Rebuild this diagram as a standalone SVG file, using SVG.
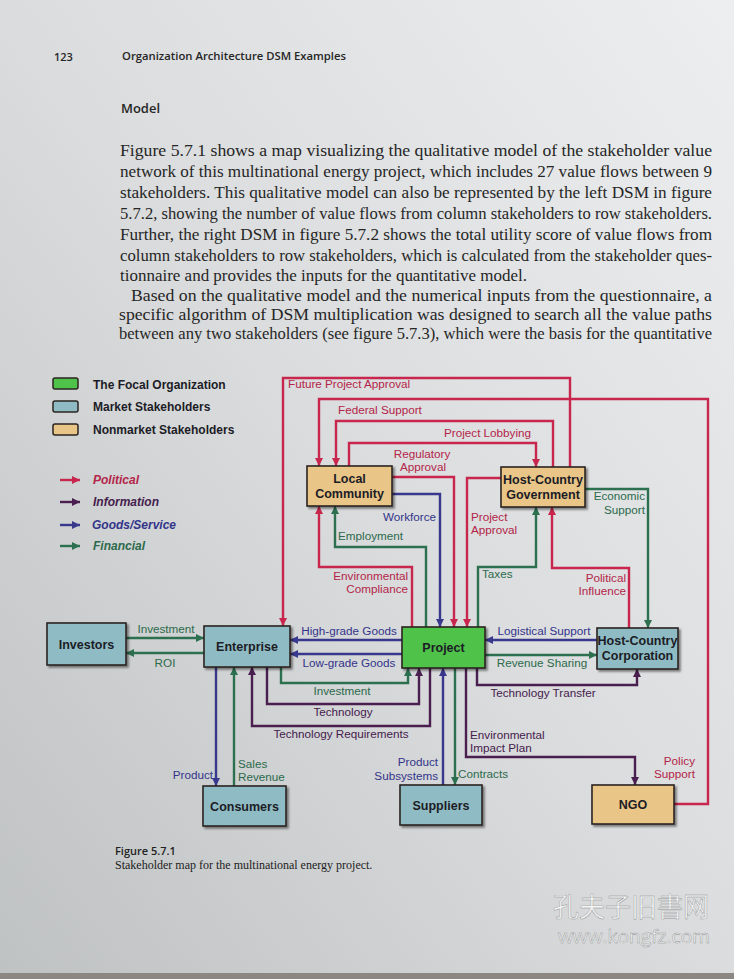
<svg xmlns="http://www.w3.org/2000/svg" width="734" height="979" viewBox="0 0 734 979">
<defs>
<linearGradient id="bg" x1="1" y1="0" x2="0" y2="1">
<stop offset="0" stop-color="#eceeef"/>
<stop offset="0.5" stop-color="#dadcdd"/>
<stop offset="1" stop-color="#bfc2c3"/>
</linearGradient>
<filter id="sh" x="-10%" y="-10%" width="130%" height="140%">
<feDropShadow dx="2" dy="2" stdDeviation="1.2" flood-color="#000" flood-opacity="0.45"/>
</filter>
<marker id="aR" viewBox="0 0 10 10" refX="10" refY="5" markerWidth="8" markerHeight="8" markerUnits="userSpaceOnUse" orient="auto"><path d="M0,0 L10,5 L0,10 z" fill="#c8264c"/></marker>
<marker id="aB" viewBox="0 0 10 10" refX="10" refY="5" markerWidth="8" markerHeight="8" markerUnits="userSpaceOnUse" orient="auto"><path d="M0,0 L10,5 L0,10 z" fill="#38398c"/></marker>
<marker id="aG" viewBox="0 0 10 10" refX="10" refY="5" markerWidth="8" markerHeight="8" markerUnits="userSpaceOnUse" orient="auto"><path d="M0,0 L10,5 L0,10 z" fill="#2c7050"/></marker>
<marker id="aP" viewBox="0 0 10 10" refX="10" refY="5" markerWidth="8" markerHeight="8" markerUnits="userSpaceOnUse" orient="auto"><path d="M0,0 L10,5 L0,10 z" fill="#4a1f50"/></marker>
</defs>
<style>
.body{font-family:"Liberation Serif","Times New Roman",serif;font-size:16px;fill:#262626}
.hdr{font-family:"Open Sans","Noto Sans",sans-serif;font-weight:600;fill:#262626}
.node rect{stroke:#2b2420;stroke-width:1.6;filter:url(#sh)}
.org rect{fill:#e9c587}
.mkt rect{fill:#8fbcc4}
.foc rect{fill:#4fc24a}
.nt{font-family:"Liberation Sans",Arial,sans-serif;font-weight:bold;font-size:12.5px;fill:#1c1c26;text-anchor:middle}
.c{fill:none;stroke-width:2.4;stroke-linejoin:miter}
.r{stroke:#c8264c;marker-end:url(#aR)}
.b{stroke:#38398c;marker-end:url(#aB)}
.g{stroke:#2c7050;marker-end:url(#aG)}
.p{stroke:#4a1f50;marker-end:url(#aP)}
.lb{font-family:"Liberation Sans",Arial,sans-serif;font-size:11.7px}
.lr{fill:#b4254a}.lbb{fill:#33348a}.lg{fill:#2c6a4c}.lp{fill:#45204d}
.m{text-anchor:middle}.e{text-anchor:end}
.leg{font-family:"Liberation Sans",Arial,sans-serif;font-weight:bold;font-size:12px;fill:#1c1c26}
.legi{font-family:"Liberation Sans",Arial,sans-serif;font-weight:bold;font-style:italic;font-size:12px}
</style>
<rect x="0" y="0" width="734" height="979" fill="url(#bg)"/>
<rect x="0" y="973" width="734" height="6" fill="#8c8782"/>

<text class="hdr" x="54" y="61" font-size="11">123</text>
<text class="hdr" x="122" y="60" font-size="11.5" textLength="224" lengthAdjust="spacingAndGlyphs">Organization Architecture DSM Examples</text>
<text class="hdr" x="121" y="113" font-size="13" textLength="39" lengthAdjust="spacingAndGlyphs">Model</text>

<g id="paragraph">
<text class="body" x="120" y="156" textLength="592" lengthAdjust="spacingAndGlyphs">Figure 5.7.1 shows a map visualizing the qualitative model of the stakeholder value</text>
<text class="body" x="120" y="177" textLength="592" lengthAdjust="spacingAndGlyphs">network of this multinational energy project, which includes 27 value flows between 9</text>
<text class="body" x="120" y="198" textLength="592" lengthAdjust="spacingAndGlyphs">stakeholders. This qualitative model can also be represented by the left DSM in figure</text>
<text class="body" x="120" y="219" textLength="592" lengthAdjust="spacingAndGlyphs">5.7.2, showing the number of value flows from column stakeholders to row stakeholders.</text>
<text class="body" x="120" y="240" textLength="592" lengthAdjust="spacingAndGlyphs">Further, the right DSM in figure 5.7.2 shows the total utility score of value flows from</text>
<text class="body" x="120" y="261" textLength="592" lengthAdjust="spacingAndGlyphs">column stakeholders to row stakeholders, which is calculated from the stakeholder ques-</text>
<text class="body" x="120" y="281" textLength="407" lengthAdjust="spacingAndGlyphs">tionnaire and provides the inputs for the quantitative model.</text>
<text class="body" x="131" y="301" textLength="581" lengthAdjust="spacingAndGlyphs">Based on the qualitative model and the numerical inputs from the questionnaire, a</text>
<text class="body" x="119" y="320" textLength="593" lengthAdjust="spacingAndGlyphs">specific algorithm of DSM multiplication was designed to search all the value paths</text>
<text class="body" x="119" y="339" textLength="593" lengthAdjust="spacingAndGlyphs">between any two stakeholders (see figure 5.7.3), which were the basis for the quantitative</text>
</g>

<g id="legend">
<rect x="53" y="378" width="25" height="11" rx="2" fill="#4fc24a" stroke="#2b2420" stroke-width="1.5"/>
<rect x="53" y="401" width="25" height="11" rx="2" fill="#8fbcc4" stroke="#2b2420" stroke-width="1.5"/>
<rect x="53" y="424" width="25" height="11" rx="2" fill="#e9c587" stroke="#2b2420" stroke-width="1.5"/>
<text class="leg" x="93" y="389">The Focal Organization</text>
<text class="leg" x="93" y="411">Market Stakeholders</text>
<text class="leg" x="93" y="434">Nonmarket Stakeholders</text>
<line x1="60" y1="480" x2="80" y2="480" class="c r" stroke-width="3"/>
<line x1="60" y1="502" x2="80" y2="502" class="c p" stroke-width="3"/>
<line x1="60" y1="525" x2="80" y2="525" class="c b" stroke-width="3"/>
<line x1="60" y1="546" x2="80" y2="546" class="c g" stroke-width="3"/>
<text class="legi lr" x="93" y="484">Political</text>
<text class="legi lp" x="93" y="506">Information</text>
<text class="legi lbb" x="92" y="529">Goods/Service</text>
<text class="legi lg" x="93" y="550">Financial</text>
</g>

<g id="connectors">
<polyline class="c r" points="570,467 570,378 283,378 283,626"/>
<polyline class="c r" points="674,804 708,804 708,399 319,399 319,466"/>
<polyline class="c r" points="553,467 553,421 336,421 336,466"/>
<polyline class="c r" points="349,466 349,443 536,443 536,467"/>
<polyline class="c r" points="392,477 454,477 454,627"/>
<polyline class="c r" points="501,478 467,478 467,627"/>
<polyline class="c r" points="412,627 412,567 319,567 319,506"/>
<polyline class="c r" points="629,628 629,568 552,568 552,507"/>
<polyline class="c b" points="392,494 440,494 440,627"/>
<polyline class="c g" points="426,627 426,547 335,547 335,506"/>
<polyline class="c g" points="478,627 478,567 536,567 536,507"/>
<polyline class="c g" points="585,489 648,489 648,628"/>
<polyline class="c g" points="126,638 204,638"/>
<polyline class="c g" points="204,653 126,653"/>
<polyline class="c b" points="402,640 290,640"/>
<polyline class="c b" points="402,654 290,654"/>
<polyline class="c g" points="281,667 281,683 408,683 408,668"/>
<polyline class="c p" points="267,667 267,704 419,704 419,668"/>
<polyline class="c p" points="430,668 430,726 252,726 252,667"/>
<polyline class="c b" points="216,667 216,786"/>
<polyline class="c g" points="234,786 234,667"/>
<polyline class="c b" points="597,640 485,640"/>
<polyline class="c g" points="485,655 597,655"/>
<polyline class="c p" points="477,668 477,685 637,685 637,669"/>
<polyline class="c b" points="443,785 443,668"/>
<polyline class="c g" points="455,668 455,785"/>
<polyline class="c p" points="466,668 466,757 635,757 635,785"/>
</g>

<g id="labels" class="lb">
<text class="lr" x="288" y="388">Future Project Approval</text>
<text class="lr" x="338" y="414">Federal Support</text>
<text class="lr" x="444" y="437">Project Lobbying</text>
<text class="lr m" x="422" y="458">Regulatory</text>
<text class="lr m" x="423" y="471">Approval</text>
<text class="lr" x="471" y="521">Project</text>
<text class="lr" x="471" y="534">Approval</text>
<text class="lbb e" x="436" y="521">Workforce</text>
<text class="lg" x="338" y="540">Employment</text>
<text class="lr e" x="408" y="580">Environmental</text>
<text class="lr e" x="408" y="593">Compliance</text>
<text class="lg" x="482" y="578">Taxes</text>
<text class="lr e" x="626" y="582">Political</text>
<text class="lr e" x="626" y="595">Influence</text>
<text class="lg e" x="645" y="500">Economic</text>
<text class="lg e" x="645" y="514">Support</text>
<text class="lg m" x="166" y="633">Investment</text>
<text class="lg m" x="165" y="667">ROI</text>
<text class="lbb m" x="349" y="635">High-grade Goods</text>
<text class="lbb m" x="349" y="667">Low-grade Goods</text>
<text class="lbb m" x="544" y="635">Logistical Support</text>
<text class="lg m" x="542" y="667">Revenue Sharing</text>
<text class="lg m" x="342" y="695">Investment</text>
<text class="lp m" x="343" y="716">Technology</text>
<text class="lp m" x="341" y="738">Technology Requirements</text>
<text class="lp m" x="543" y="697">Technology Transfer</text>
<text class="lp" x="470" y="739">Environmental</text>
<text class="lp" x="470" y="752">Impact Plan</text>
<text class="lbb e" x="213" y="779">Product</text>
<text class="lg" x="238" y="768">Sales</text>
<text class="lg" x="238" y="781">Revenue</text>
<text class="lbb e" x="438" y="766">Product</text>
<text class="lbb e" x="438" y="780">Subsystems</text>
<text class="lg" x="458" y="778">Contracts</text>
<text class="lr e" x="695" y="765">Policy</text>
<text class="lr e" x="695" y="778">Support</text>
</g>

<g id="local-community" class="node org"><rect x="307" y="466" width="85" height="40"/><text class="nt" x="349.5" y="483">Local</text><text class="nt" x="349.5" y="498">Community</text></g>
<g id="host-country-government" class="node org"><rect x="501" y="467" width="84" height="40"/><text class="nt" x="543" y="484">Host-Country</text><text class="nt" x="543" y="499">Government</text></g>
<g id="investors" class="node mkt"><rect x="47" y="623" width="79" height="42"/><text class="nt" x="86.5" y="649">Investors</text></g>
<g id="enterprise" class="node mkt"><rect x="204" y="626" width="86" height="41"/><text class="nt" x="247" y="651">Enterprise</text></g>
<g id="project" class="node foc"><rect x="402" y="627" width="83" height="41"/><text class="nt" x="443.5" y="652">Project</text></g>
<g id="host-country-corporation" class="node mkt"><rect x="597" y="628" width="81" height="41"/><text class="nt" x="637.5" y="645">Host-Country</text><text class="nt" x="637.5" y="660">Corporation</text></g>
<g id="consumers" class="node mkt"><rect x="203" y="786" width="83" height="40"/><text class="nt" x="244.5" y="811">Consumers</text></g>
<g id="suppliers" class="node mkt"><rect x="400" y="785" width="82" height="40"/><text class="nt" x="441" y="810">Suppliers</text></g>
<g id="ngo" class="node org"><rect x="592" y="785" width="82" height="39"/><text class="nt" x="633" y="809">NGO</text></g>

<text x="115" y="855" font-family="Open Sans, Noto Sans, sans-serif" font-weight="600" font-size="11" fill="#222">Figure 5.7.1</text>
<text x="115" y="869" font-family="Liberation Serif, Times New Roman, serif" font-size="12" fill="#222">Stakeholder map for the multinational energy project.</text>

<g id="watermark" font-family="Noto Sans CJK SC, sans-serif" fill="#f4f4f4" stroke="#8a8d8e" stroke-width="0.4">
<text x="553" y="917" font-size="27" textLength="156" lengthAdjust="spacingAndGlyphs">孔夫子旧書网</text>
<text x="558" y="943" font-size="18" font-family="Open Sans, sans-serif" textLength="152" lengthAdjust="spacingAndGlyphs">www.kongfz.com</text>
</g>
</svg>
